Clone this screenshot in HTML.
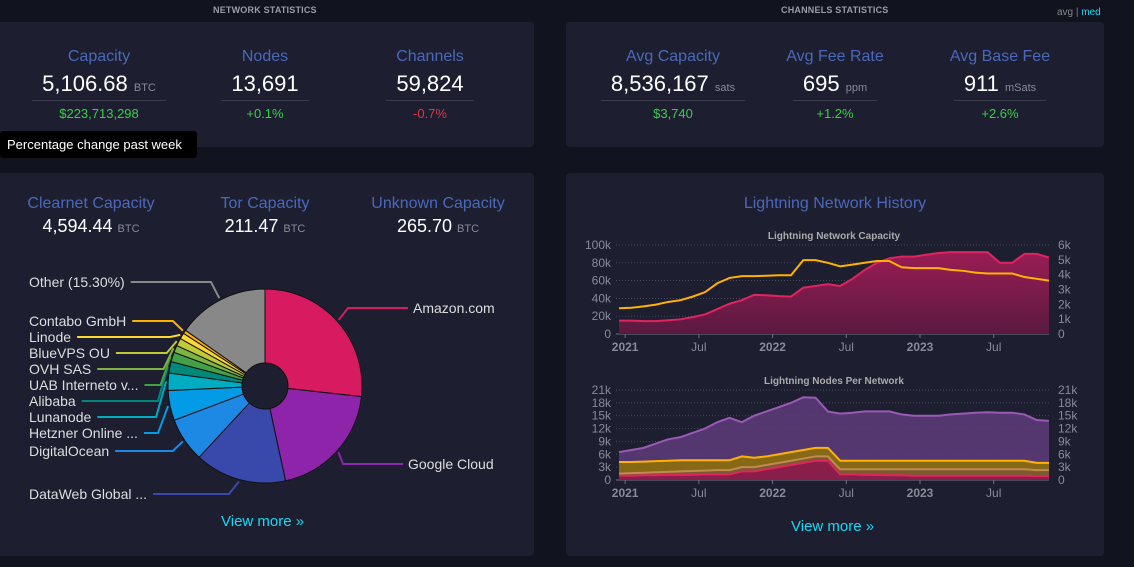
<!DOCTYPE html>
<html><head><meta charset="utf-8">
<style>
body{margin:0;width:1134px;height:567px;background:#11131f;font-family:"Liberation Sans",sans-serif;overflow:hidden;position:relative;color:#fff}
.card{position:absolute;background:#1d1f31;border-radius:4px}
.hdr{position:absolute;top:5px;font-size:9px;font-weight:bold;color:#9a9cab;letter-spacing:0.2px}
.stat{position:absolute;text-align:center;width:160px}
.stat .t{color:#4a68b9;font-size:16px}
.stat .v{font-size:22px;margin-top:5px;display:inline-block;padding:0 10px 3px;border-bottom:1px solid #3a3c4e}
.stat .u{font-size:11px;color:#888a99}
.stat .c{font-size:13px;margin-top:5px}
.g{color:#3bcc49}.r{color:#dc3545}
.lbl{font-size:14px;fill:#ddd}
</style></head><body>
<div class="hdr" style="left:213px">NETWORK STATISTICS</div>
<div class="hdr" style="left:781px">CHANNELS STATISTICS</div>
<div style="position:absolute;left:1057px;top:7px;font-size:10px;color:#888">avg | <span style="color:#1bd8f4">med</span></div>

<div class="card" style="left:-6px;top:22px;width:540px;height:125px"></div>
<div class="stat" style="left:19px;top:48px"><div class="t">Capacity</div><div class="v">5,106.68 <span class="u">BTC</span></div><div class="c g">$223,713,298</div></div>
<div class="stat" style="left:185px;top:48px"><div class="t">Nodes</div><div class="v">13,691</div><div class="c g">+0.1%</div></div>
<div class="stat" style="left:350px;top:48px"><div class="t">Channels</div><div class="v">59,824</div><div class="c r">-0.7%</div></div>
<div style="position:absolute;left:0;top:131px;width:197px;height:27px;background:#000;border-radius:3px;font-size:13px;line-height:27px;text-indent:7px;color:#fff">Percentage change past week</div>

<div class="card" style="left:566px;top:22px;width:538px;height:125px"></div>
<div class="stat" style="left:588px;top:48px;width:170px"><div class="t">Avg Capacity</div><div class="v">8,536,167 <span class="u">sats</span></div><div class="c g">$3,740</div></div>
<div class="stat" style="left:755px;top:48px"><div class="t">Avg Fee Rate</div><div class="v">695 <span class="u">ppm</span></div><div class="c g">+1.2%</div></div>
<div class="stat" style="left:920px;top:48px"><div class="t">Avg Base Fee</div><div class="v">911 <span class="u">mSats</span></div><div class="c g">+2.6%</div></div>

<div class="card" style="left:-6px;top:173px;width:540px;height:383px"></div>
<div class="stat" style="left:11px;top:195px"><div class="t">Clearnet Capacity</div><div class="v" style="border:0;font-size:18px;margin-top:3px">4,594.44 <span class="u">BTC</span></div></div>
<div class="stat" style="left:185px;top:195px"><div class="t">Tor Capacity</div><div class="v" style="border:0;font-size:18px;margin-top:3px">211.47 <span class="u">BTC</span></div></div>
<div class="stat" style="left:358px;top:195px"><div class="t">Unknown Capacity</div><div class="v" style="border:0;font-size:18px;margin-top:3px">265.70 <span class="u">BTC</span></div></div>
<div style="position:absolute;left:221px;top:513px;color:#1bd8f4;font-size:15px">View more »</div>

<div class="card" style="left:566px;top:173px;width:538px;height:383px"></div>
<div style="position:absolute;left:566px;width:538px;top:195px;text-align:center;color:#4a68b9;font-size:16px">Lightning Network History</div>
<div style="position:absolute;left:791px;top:518px;color:#1bd8f4;font-size:15px">View more »</div>

<svg id="pie" width="1134" height="567" style="position:absolute;left:0;top:0"></svg>
<svg id="hist" width="1134" height="567" style="position:absolute;left:0;top:0">
<defs><linearGradient id="gp" x1="0" y1="0" x2="0" y2="1"><stop offset="0" stop-color="#9a1c55"/><stop offset="1" stop-color="#5a1a40"/></linearGradient></defs>
</svg>

<script>
const ispNames=["Amazon.com","Google Cloud","DataWeb Global ...","DigitalOcean","Hetzner Online ...","Lunanode","Alibaba","UAB Interneto v...","OVH SAS","BlueVPS OU","Linode","Contabo GmbH","Other (15.30%)"];
const ispShares=[26.8,19.9,15.3,7.4,5.0,2.9,1.9,1.6,1.2,1.3,1.0,0.6,15.3];
const ispColors=["#d81b60","#8e24aa","#3949ab","#1e88e5","#039be5","#00acc1","#00897b","#43a047","#7cb342","#c0ca33","#fdd835","#ffb300","#888888"];
const labelPos=[[413,308,1],[408,464,1],[29,494,0],[29,451,0],[29,433,0],[29,417,0],[29,401,0],[29,385,0],[29,369,0],[29,353,0],[29,337,0],[29,321,0],[29,282,0]];

const months=36;
const xTicks=["2021","Jul","2022","Jul","2023","Jul"];
const xTickMonth=[0.5,6.5,12.5,18.5,24.5,30.5];
const capYTicks=["0","20k","40k","60k","80k","100k"];
const capY2Ticks=["0","1k","2k","3k","4k","5k","6k"];
const nodeYTicks=["0","3k","6k","9k","12k","15k","18k","21k"];
const channelsK=[15,15,14.5,14.5,15.5,16.5,19,22,28,34,38,44,43.5,42.5,42,52,54,56,54,62,72,80,85,87,87,89,91,92,92,92,92,80,80,90,90,86];
const capacityBTC=[1740,1770,1860,1980,2160,2280,2520,2820,3420,3780,3900,3900,3930,3960,3960,4980,4980,4800,4560,4680,4800,4920,4920,4500,4440,4440,4440,4320,4260,4140,4080,4080,4080,3840,3720,3600];
const nodesTotalK=[6.5,7,7.5,8.5,9.5,10,11,12,13.5,14.5,13.5,15,16,17,18,19.3,19.2,16,15.5,15.7,16,16,16,15.3,15,15,15,15.3,15.5,15.7,15.8,15.7,15.7,15.3,14,13.8];
const nodesTorK=[4.2,4.2,4.3,4.4,4.5,4.6,4.6,4.6,4.6,4.6,5.5,5.2,5.5,6,6.5,7,7.5,7.5,4.5,4.5,4.5,4.5,4.5,4.5,4.5,4.5,4.5,4.5,4.5,4.5,4.5,4.5,4.5,4.5,4,4];
const nodesMixK=[1.5,1.6,1.7,1.8,1.9,2,2.1,2.2,2.3,2.3,3,3,3.5,4,4.5,5,5.5,5.5,2.5,2.5,2.5,2.5,2.5,2.5,2.5,2.5,2.5,2.5,2.5,2.5,2.5,2.5,2.5,2.5,2.3,2.3];
const nodesClearK=[1,1,1.1,1.1,1.2,1.2,1.2,1.3,1.3,1.3,2,2,2.5,3,3.5,4,4.5,4.5,1.3,1.3,1.2,1.2,1.1,1.1,1,1,1,1,1,1,1,1,1,1,0.9,0.9];

const NS="http://www.w3.org/2000/svg";
function mk(p,tag,attrs){const e=document.createElementNS(NS,tag);for(const k in attrs)e.setAttribute(k,attrs[k]);p.appendChild(e);return e;}

// pie
const pie=document.getElementById('pie');
const cx=265,cy=386,R=97,r0=23;
const tot=ispShares.reduce((a,b)=>a+b,0);
let a0=0;
ispShares.forEach((s,i)=>{
  const a1=a0+s/tot*2*Math.PI;
  const pt=(a,rr)=>[cx+rr*Math.sin(a),cy-rr*Math.cos(a)];
  const [x0,y0]=pt(a0,R),[x1,y1]=pt(a1,R);
  const lg=(a1-a0)>Math.PI?1:0;
  const sl=mk(pie,'path',{d:`M${cx},${cy}L${x0},${y0}A${R},${R} 0 ${lg} 1 ${x1},${y1}Z`,fill:ispColors[i],stroke:'#111',"stroke-width":1});
  
  
  const am=(a0+a1)/2;
  const [ax,ay]=pt(am,R+2);
  const [lx,ly,right]=labelPos[i];
  const tx=mk(pie,'text',{x:lx,y:ly+5,class:'lbl'});tx.textContent=ispNames[i];
  
  
  const w=tx.getComputedTextLength();
  let ex,kx;
  if(right){ex=lx-5;kx=ex-60;}else{ex=lx+w+6;kx=Math.max(ex+14,ax-10);if(i==12)kx=211;}
  const ln=mk(pie,'polyline',{points:`${ex},${ly} ${kx},${ly} ${ax},${ay}`,fill:'none',stroke:ispColors[i],"stroke-width":2});
  
  
  a0=a1;
});
mk(pie,'circle',{cx:cx,cy:cy,r:r0,fill:'#1d1f31',stroke:'#111'});

// history
const h=document.getElementById('hist');
const X0=619,X1=1049;
const xs=i=>X0+(X1-X0)*i/(months-1);
function chart(top,bot,title,ticks,ticksR,maxL){
  const t=mk(h,'text',{x:834,y:top-6,"text-anchor":"middle","font-size":10,"font-weight":"bold",fill:'#aaa'});t.textContent=title;
  
  
  ticks.forEach((lb,i)=>{const y=bot-(bot-top)*i/(ticks.length-1);
    mk(h,'line',{x1:X0-3,x2:X1,y1:y,y2:y,stroke:i? '#555770':'#6e7088',"stroke-dasharray":i?'1,2':'',"stroke-width":i?0.7:1});
    const tt=mk(h,'text',{x:611,y:y+4,"text-anchor":"end","font-size":12,fill:'#888a99'});tt.textContent=lb;
    
    
  });
  ticksR.forEach((lb,i)=>{const y=bot-(bot-top)*i/(ticksR.length-1);
    const tt=mk(h,'text',{x:1058,y:y+4,"font-size":12,fill:'#888a99'});tt.textContent=lb;
    
    
  });
  xTicks.forEach((lb,i)=>{const x=xs(xTickMonth[i]);
    mk(h,'line',{x1:x,x2:x,y1:bot,y2:bot+4,stroke:'#6e7088'});
    const tt=mk(h,'text',{x:x,y:bot+17,"text-anchor":"middle","font-size":12,"font-weight":lb.length==4?'bold':'normal',fill:'#888a99'});tt.textContent=lb;
    
    
  });
  return v=>bot-(bot-top)*v/maxL;
}
function area(vals,ys,fill,stroke,op,name){
  const pts=vals.map((v,i)=>xs(i)+','+ys(v));
  const bp=[xs(months-1)+','+ys(0),xs(0)+','+ys(0)];
  if(fill){const a=mk(h,'polygon',{points:pts.concat(bp).join(' '),fill:fill,"fill-opacity":op});
    
    }
  const l=mk(h,'polyline',{points:pts.join(' '),fill:'none',stroke:stroke,"stroke-width":2});
  
  
}
const y1=chart(245,334,'Lightning Network Capacity',capYTicks,capY2Ticks,100);
area(channelsK,y1,'url(#gp)','#e0245e',1,'channels');
area(capacityBTC.map(v=>v/60),y1,null,'#ffb300',1,'capacity');
const y2=chart(390,480,'Lightning Nodes Per Network',nodeYTicks,nodeYTicks,21);
area(nodesTotalK,y2,'#5c3a78','#9b59b6',0.9,'nodes-total');
area(nodesTorK,y2,'#8a6a10','#ffb300',0.95,'nodes-tor');
area(nodesMixK,y2,'#7a5a30','#c08a50',0.9,'nodes-mixed');
area(nodesClearK,y2,'#8a1b4d','#e0245e',0.95,'nodes-clearnet');
</script>
</body></html>
